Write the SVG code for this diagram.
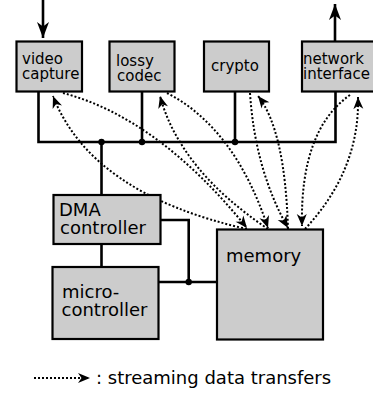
<svg xmlns="http://www.w3.org/2000/svg" width="373" height="395" viewBox="0 0 373 395">
<style>
.box{fill:#cccccc;stroke:#000;stroke-width:2.2}
.wire{fill:none;stroke:#000;stroke-width:2.6}
.flow{fill:none;stroke:#000;stroke-width:2;stroke-dasharray:2 2;marker-end:url(#sa)}
.s{font-family:"DejaVu Sans",sans-serif;font-size:15px;fill:#000}
.l{font-family:"DejaVu Sans",sans-serif;font-size:18px;fill:#000}
</style>
<defs>
<marker id="sa" markerUnits="userSpaceOnUse" markerWidth="16" markerHeight="14" refX="0" refY="0" viewBox="-14 -7 16 14" orient="auto">
<path d="M0,0 L-12,-5 L-8.5,0 L-12,5 Z" fill="#000"/>
</marker>
<marker id="ba" markerUnits="userSpaceOnUse" markerWidth="20" markerHeight="16" refX="0" refY="0" viewBox="-18 -8 20 16" orient="auto">
<path d="M0,0 L-16,-6 L-11.5,0 L-16,6 Z" fill="#000"/>
</marker>
</defs>

<g id="connectors">
<path class="wire" d="M43,0 V38" marker-end="url(#ba)"/>
<path class="wire" d="M335,41.5 V4" marker-end="url(#ba)"/>
<path class="wire" d="M38.5,91.5 V142 H335.5 V91.5"/>
<path class="wire" d="M142,91.5 V142"/>
<path class="wire" d="M235,91.5 V142"/>
<path class="wire" d="M101.5,142 V195"/>
<path class="wire" d="M101.5,244 V267"/>
<path class="wire" d="M160.3,220 H188.7 V282"/>
<path class="wire" d="M158.5,282 H217"/>
<circle cx="101.5" cy="142" r="3.2"/>
<circle cx="142" cy="142" r="3.2"/>
<circle cx="235" cy="142" r="3.2"/>
<circle cx="188.7" cy="282" r="3.2"/>
<path class="flow" d="M63,93 Q158,118 247,228"/>
<path class="flow" d="M247,229 Q91,194 53,96"/>
<path class="flow" d="M167,93 Q235,128 268,228"/>
<path class="flow" d="M268,229 Q180,170 160,96"/>
<path class="flow" d="M250,93 Q255,170 288,228"/>
<path class="flow" d="M288,229 Q285,130 258,96"/>
<path class="flow" d="M350,95 Q300,130 302,226"/>
<path class="flow" d="M305,229 Q360,170 358,97"/>
<path class="flow" d="M34,378 H90"/>
</g>

<g id="video-capture">
<rect class="box" x="16.5" y="41.5" width="65.5" height="50"/>
<text class="s" x="22" y="64">video</text>
<text class="s" x="22" y="78.5">capture</text>
</g>
<g id="lossy-codec">
<rect class="box" x="109.5" y="41.5" width="65" height="50"/>
<text class="s" x="116" y="66">lossy</text>
<text class="s" x="117" y="80.5">codec</text>
</g>
<g id="crypto">
<rect class="box" x="204" y="41.5" width="65" height="50"/>
<text class="s" x="211" y="71">crypto</text>
</g>
<g id="network-interface">
<rect class="box" x="302" y="41.5" width="76" height="50"/>
<text class="s" x="303" y="64">network</text>
<text class="s" x="303" y="79">interface</text>
</g>
<g id="dma-controller">
<rect class="box" x="53.5" y="195" width="107" height="49"/>
<text class="l" x="59" y="216">DMA</text>
<text class="l" x="60" y="234">controller</text>
</g>
<g id="micro-controller">
<rect class="box" x="52.5" y="267" width="106" height="72"/>
<text class="l" x="62" y="298">micro-</text>
<text class="l" x="61.5" y="316">controller</text>
</g>
<g id="memory">
<rect class="box" x="217" y="229.5" width="106" height="110"/>
<text class="l" x="226" y="262">memory</text>
</g>
<g id="legend">
<text class="l" x="96" y="384">: streaming data transfers</text>
</g>
</svg>
